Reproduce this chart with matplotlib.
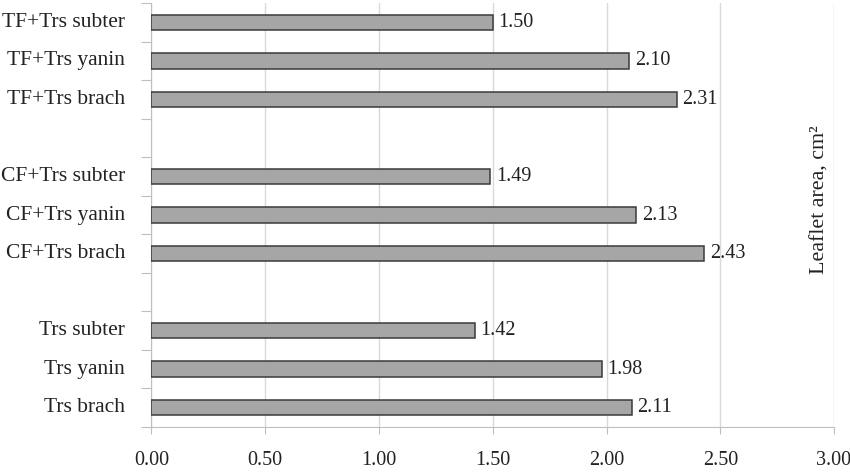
import matplotlib
matplotlib.use("Agg")
import matplotlib.pyplot as plt
import numpy as np

plt.rcParams['font.family'] = ['Liberation Serif', 'DejaVu Serif']

# categories from bottom to top, None marks an empty slot between groups
categories = ['Trs brach', 'Trs yanin', 'Trs subter', None,
              'CF+Trs brach', 'CF+Trs yanin', 'CF+Trs subter', None,
              'TF+Trs brach', 'TF+Trs yanin', 'TF+Trs subter']
values = [2.11, 1.98, 1.42, None,
          2.43, 2.13, 1.49, None,
          2.31, 2.10, 1.50]
xticks = [0.0, 0.5, 1.0, 1.5, 2.0, 2.5, 3.0]

fig = plt.figure(figsize=(8.5, 4.72), dpi=100)
ax = fig.add_axes([0.1782, 0.0953, 0.8030, 0.8983])

pos = [i for i, v in enumerate(values) if v is not None]
vals = [values[i] for i in pos]
labels = [categories[i] for i in pos]

ax.barh(pos, vals, height=0.4, color='#a6a6a6', edgecolor='#3a3a3a',
        linewidth=1.1, zorder=3)
for p, v in zip(pos, vals):
    ax.annotate(f'{v:.2f}', (v, p), xytext=(4, 0), textcoords='offset points',
                ha='left', va='center', fontsize=14.5, color='#222222')

ax.set_xlim(0, 3.0)
ax.set_ylim(-0.5, len(categories) - 0.5)
ax.set_xticks(xticks)
ax.set_xticklabels([f'{t:.2f}' for t in xticks], fontsize=14.5, color='#222222')
ax.tick_params(axis='x', length=5, color='#bfbfbf', pad=12)

# category labels as text, ticks at slot boundaries
ax.set_yticks(np.arange(-0.5, len(categories), 1.0))
ax.set_yticklabels([])
ax.tick_params(axis='y', length=7, color='#bfbfbf')
for p, lab in zip(pos, labels):
    ax.annotate(lab, (0, p), xycoords=('axes fraction', 'data'),
                xytext=(-19, 0), textcoords='offset points',
                ha='right', va='center', fontsize=15.5, color='#222222')

ax.grid(axis='x', color='#d9d9d9', linewidth=1.0, zorder=0)
ax.spines['top'].set_visible(False)
ax.spines['right'].set_visible(False)
ax.spines['left'].set_color('#bfbfbf')
ax.spines['bottom'].set_color('#bfbfbf')

fig.text(820 / 850, 0.578, 'Leaflet area, cm²', rotation=90, ha='center',
         va='center', fontsize=15.8, color='#222222')

fig.savefig('out.png', dpi=100)
